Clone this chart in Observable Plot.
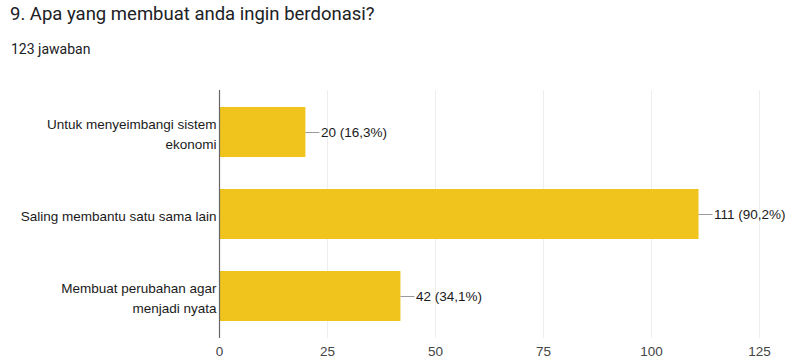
<!DOCTYPE html>
<html>
<head>
<meta charset="utf-8">
<script src="https://cdn.jsdelivr.net/npm/d3@7"></script>
<script src="https://cdn.jsdelivr.net/npm/@observablehq/plot@0.6"></script>
<style>
  html, body { margin: 0; padding: 0; background: #fff; }
  #wrap { width: 785px; height: 364px; overflow: hidden; }
  #head { position: relative; height: 70px; }
  #title { position: absolute; left: 10px; top: 3px; font: 18.5px Roboto, "Liberation Sans", Arial, sans-serif; color: #202124; white-space: nowrap; }
  #sub { position: absolute; left: 11px; top: 41px; font: 14px Roboto, "Liberation Sans", Arial, sans-serif; color: #202124; white-space: nowrap; }
  svg { display: block; }
</style>
</head>
<body>
<div id="wrap">
  <div id="head">
    <div id="title">9. Apa yang membuat anda ingin berdonasi?</div>
    <div id="sub">123 jawaban</div>
  </div>
  <div id="chart"></div>
</div>
<script>
const categories = ["Untuk menyeimbangi sistem ekonomi", "Saling membantu satu sama lain", "Membuat perubahan agar menjadi nyata"];
const wrappedLabels = ["Untuk menyeimbangi sistem\nekonomi", "Saling membantu satu sama lain", "Membuat perubahan agar\nmenjadi nyata"];
const counts = [20, 111, 42];
const percents = ["16,3", "90,2", "34,1"];
const xTicks = [0, 25, 50, 75, 100, 125];

const data = categories.map((c, i) => ({category: c, value: counts[i], pct: percents[i]}));
const labelOf = new Map(categories.map((c, i) => [c, wrappedLabels[i]]));

const width = 785, height = 294;
const marginLeft = 219, marginRight = 26, marginTop = 20, marginBottom = 26;
const pxPerUnit = (width - marginLeft - marginRight) / 125;
const leader = 14 / pxPerUnit;

const chart = Plot.plot({
  width, height, marginLeft, marginRight, marginTop, marginBottom,
  style: {fontFamily: "'Liberation Sans', Arial, sans-serif", fontSize: "13.5px", color: "#222", background: "#fff"},
  x: {domain: [0, 125]},
  y: {domain: categories, paddingInner: 0.386, paddingOuter: 0.193},
  marks: [
    Plot.gridX(xTicks.slice(1), {stroke: "#eeeeee", strokeOpacity: 1}),
    Plot.barX(data, {x: "value", y: "category", fill: "#f0c41c"}),
    Plot.ruleX([0], {stroke: "#666", strokeWidth: 1.2}),
    Plot.ruleY(data, {y: "category", x1: "value", x2: d => d.value + leader, stroke: "#9a9a9a"}),
    Plot.text(data, {x: "value", y: "category", dx: 15, textAnchor: "start", fill: "#1a1a1a", fontSize: 13.5, text: d => `${d.value} (${d.pct}%)`}),
    Plot.axisX({ticks: xTicks, tickSize: 0, tickPadding: 8, fontSize: 13.5, color: "#444", label: null}),
    Plot.axisY({tickSize: 0, tickPadding: 3, fontSize: 13.5, lineHeight: 1.45, color: "#1a1a1a", label: null, tickFormat: d => labelOf.get(d)})
  ]
});
document.getElementById("chart").appendChild(chart);
</script>
</body>
</html>
